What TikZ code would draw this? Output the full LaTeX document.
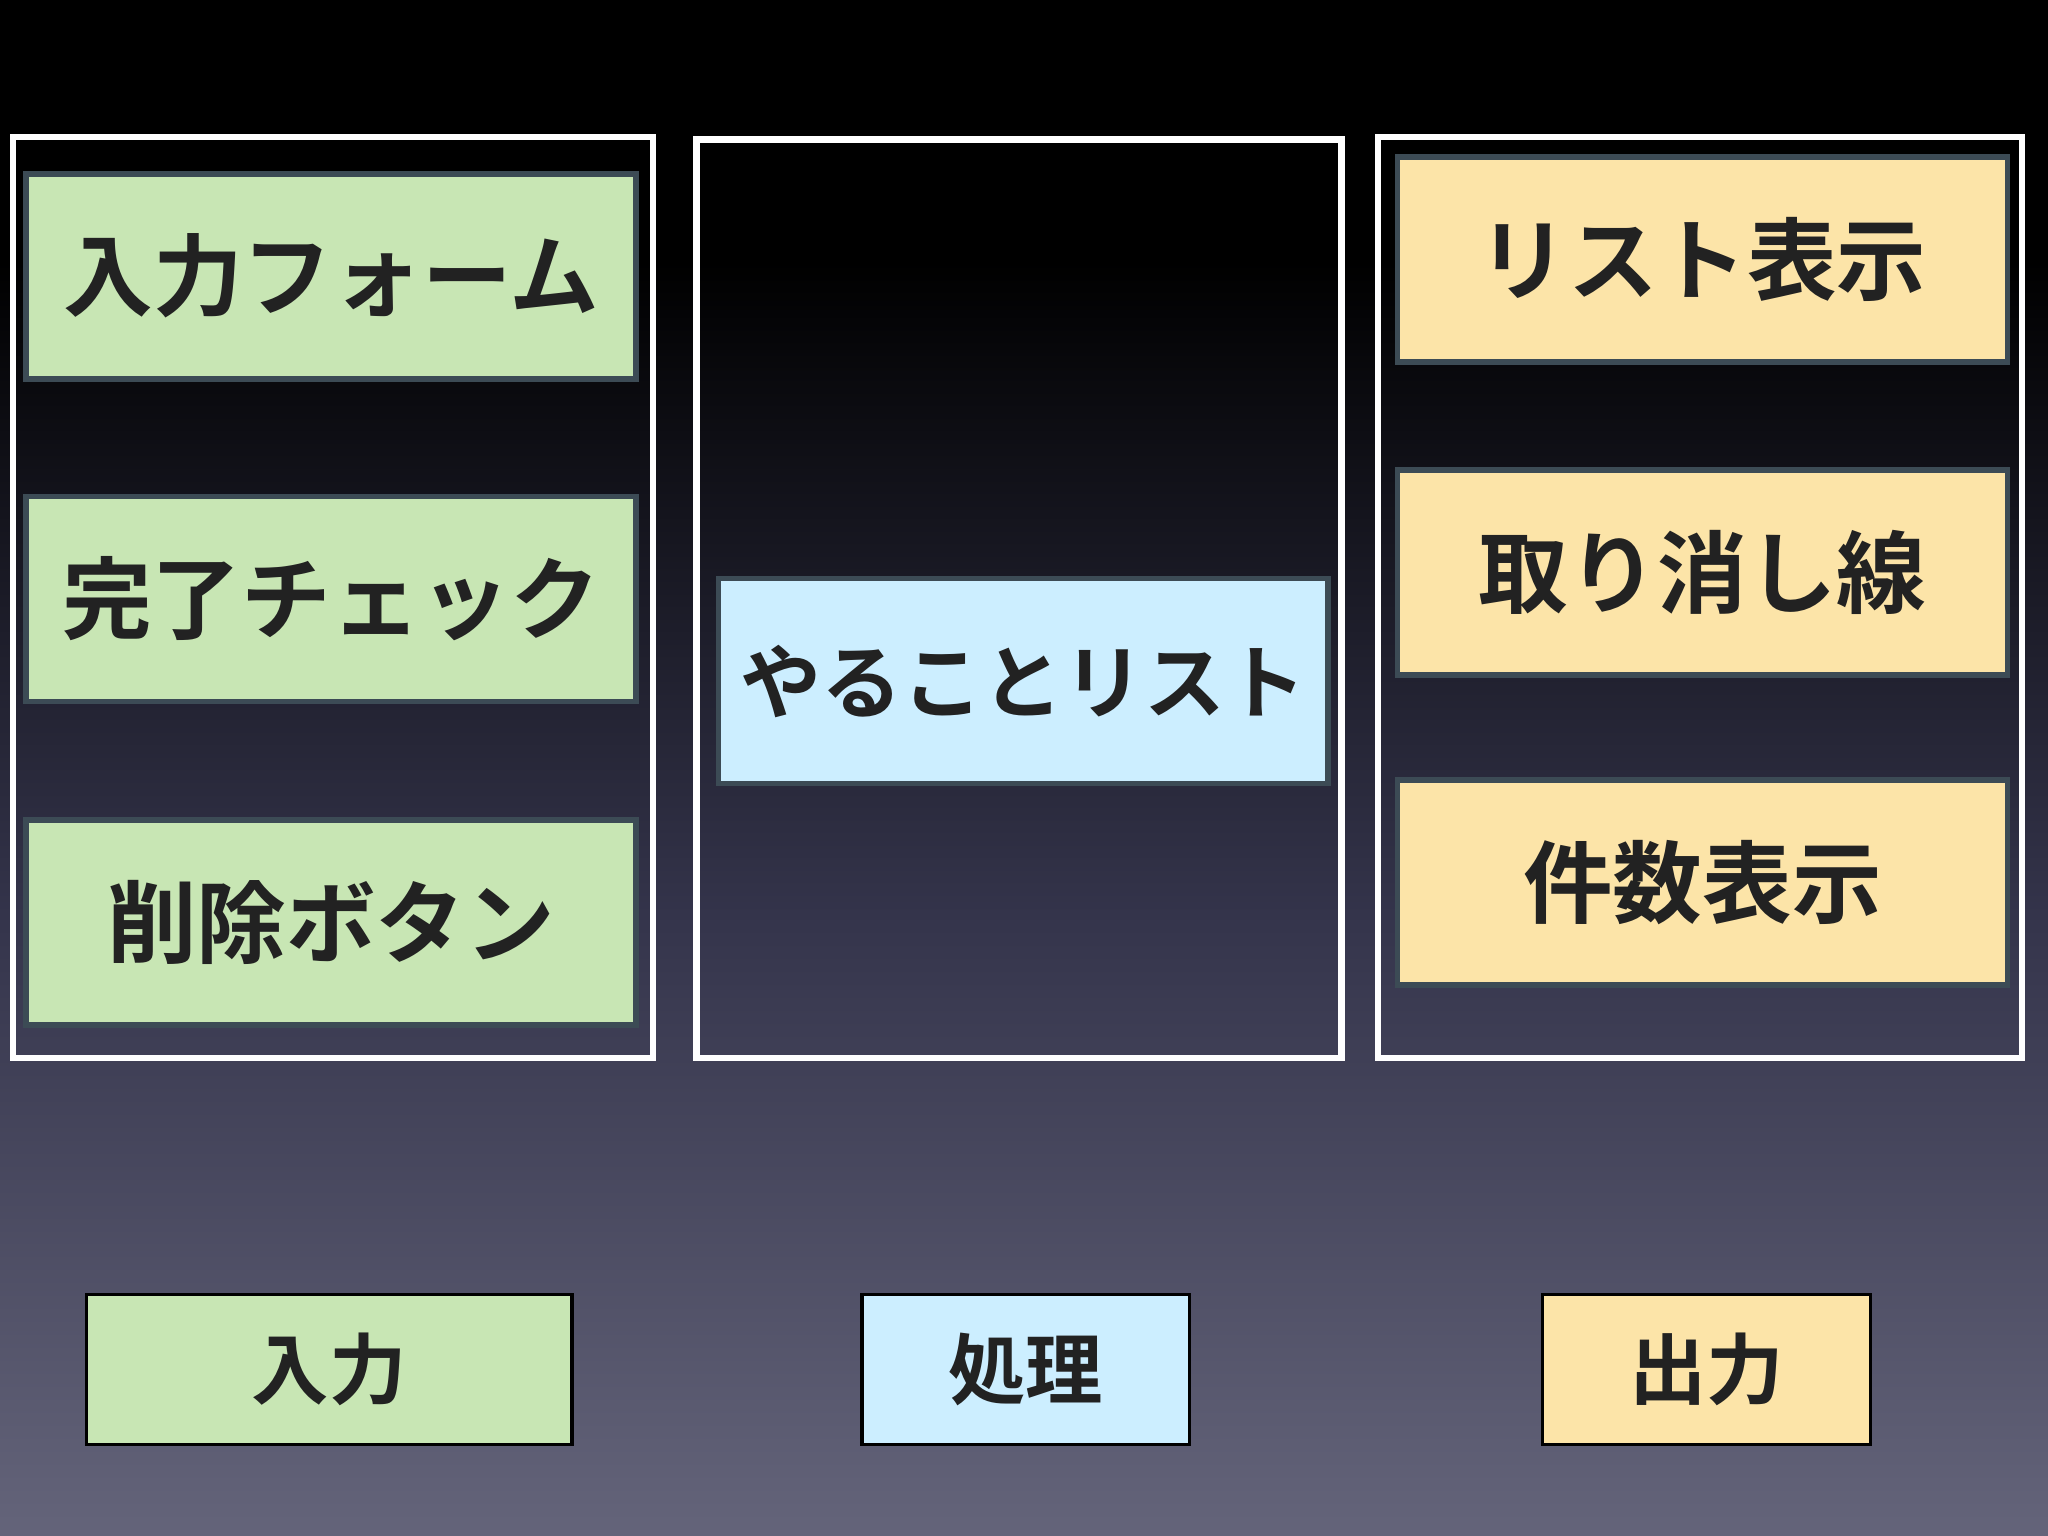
\documentclass[tikz,border=0pt]{standalone}
\usepackage{fontspec}
\newfontfamily\jp{Noto Sans CJK JP Bold}
\begin{document}
\begin{tikzpicture}[x=0.01306cm,y=-0.01306cm,
  item/.style={draw={rgb,255:red,60;green,75;blue,85},line width=1.6pt,inner sep=0pt,minimum width=6.099cm,minimum height=2.050cm,font=\jp\fontsize{25.5}{30}\selectfont,text={rgb,255:red,34;green,34;blue,34}},
  leg/.style={draw=black,line width=0.9pt,inner sep=0pt,minimum height=1.502cm,font=\jp\fontsize{22}{26}\selectfont,text={rgb,255:red,34;green,34;blue,34}},
  panel/.style={draw=white,line width=1.9pt}]
\definecolor{gr}{RGB}{200,230,180}
\definecolor{bl}{RGB}{204,238,255}
\definecolor{og}{RGB}{252,228,168}
\useasboundingbox (0,0) rectangle (1568,1176);
\shade[top color=black,bottom color={rgb,255:red,52;green,52;blue,75}] (0,200) rectangle (1568,700);
\shade[top color={rgb,255:red,52;green,52;blue,75},bottom color={rgb,255:red,100;green,100;blue,122}] (0,699) rectangle (1568,1176);
\fill[black] (0,0) rectangle (1568,201);
\draw[panel] (10,105) rectangle (500,810);
\draw[panel] (533,107) rectangle (1027,810);
\draw[panel] (1055,105) rectangle (1548,810);
\node[item,fill=gr] (a1) at (253.5,211.5) {入力フォーム};
\node[item,fill=gr] (a2) at (253.5,458.5) {完了チェック};
\node[item,fill=gr] (a3) at (253.5,706.5) {削除ボタン};
\node[item,fill=bl,font=\jp\fontsize{23}{28}\selectfont] (b1) at (783.5,521.5) {やることリスト};
\node[item,fill=og] (c1) at (1303.5,198.5) {リスト表示};
\node[item,fill=og] (c2) at (1303.5,438.5) {取り消し線};
\node[item,fill=og] (c3) at (1303.5,675.5) {件数表示};
\node[leg,fill=gr,minimum width=4.858cm] (l1) at (252,1048.5) {入力};
\node[leg,fill=bl,minimum width=3.278cm] (l2) at (785.5,1048.5) {処理};
\node[leg,fill=og,minimum width=3.278cm] (l3) at (1306.5,1048.5) {出力};
\end{tikzpicture}
\end{document}
